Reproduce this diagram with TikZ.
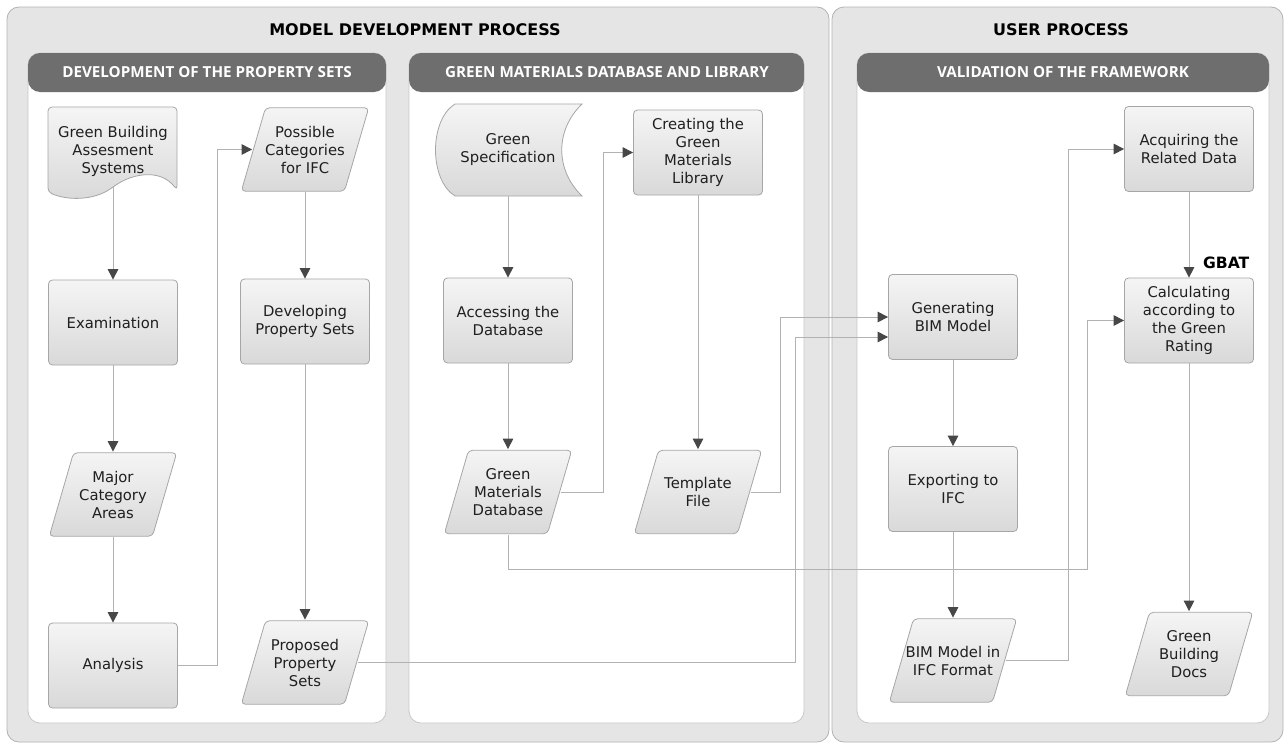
\documentclass[tikz,border=0pt]{standalone}
\usepackage{fontspec}
\setmainfont{DejaVu Sans}
\newfontfamily\headfont{Open Sans}
\usetikzlibrary{arrows.meta}

\tikzset{
panel/.style={draw=black!30,fill=black!10,rounded corners=6pt},
lane/.style={draw=black!22,fill=white,rounded corners=6pt},
lanehead/.style={fill=black!57,rounded corners=6pt},
paneltitle/.style={font={\bfseries\fontsize{8}{10}\selectfont}},
headtxt/.style={text=white,font={\headfont\bfseries\fontsize{7.6}{9}\selectfont}},
txt/.style={align=center,text=black!88,inner sep=1pt,
  minimum width=64.5pt,font={\fontsize{7.4}{9}\selectfont}},
shade/.style={draw=black!35,top color=black!4,bottom color=black!15,rounded corners=2pt},
box/.style={txt,shade,minimum height=42.5pt},
iobox/.style={txt,minimum height=42.5pt,
  path picture={\path[shade]
  ([shift={(0.4pt,0.4pt)}]path picture bounding box.south west)
  -- ([shift={(-12.5pt,0.4pt)}]path picture bounding box.south east)
  -- ([shift={(-0.4pt,-0.4pt)}]path picture bounding box.north east)
  -- ([shift={(12.5pt,-0.4pt)}]path picture bounding box.north west) -- cycle;}},
flow/.style={draw=black!30,line width=0.5pt,
  -{Triangle[width=5.2pt,length=5.2pt,color=black!72]}},
}

\begin{document}
\begin{tikzpicture}[x=0.5pt,y=-0.5pt]
\useasboundingbox (0,0) rectangle (1288,744);
% panels and lanes
\draw[panel] (7,7) rectangle (829,742);
\draw[panel] (832,7) rectangle (1283,742);
\node[paneltitle] (mdp) at (415,30) {MODEL DEVELOPMENT PROCESS};
\node[paneltitle] (up) at (1061,30) {USER PROCESS};
\draw[lane] (28,53) rectangle (386,723);
\draw[lane] (409,53) rectangle (804,723);
\draw[lane] (857,53) rectangle (1269,723);
\fill[lanehead] (28,53) rectangle (386,92);
\fill[lanehead] (409,53) rectangle (804,92);
\fill[lanehead] (857,53) rectangle (1269,92);
\node[headtxt] (h1) at (207,72) {DEVELOPMENT OF THE PROPERTY SETS};
\node[headtxt] (h2) at (607,72) {GREEN MATERIALS DATABASE AND LIBRARY};
\node[headtxt] (h3) at (1063,72) {VALIDATION OF THE FRAMEWORK};

% odd shapes
\path[shade] (48,107) -- (177,107) -- (177,190)
  .. controls (160,168) and (132,174) .. (113,187)
  .. controls (94,200) and (68,201) .. (48,192) -- cycle;
\path[shade,sharp corners] (455,104) -- (582,104) .. controls (555,130) and (555,170) .. (582,196)
  -- (455,196) .. controls (429,180) and (429,120) .. (455,104) -- cycle;

% development of the property sets
\node[txt,minimum height=36pt] (gbas) at (113,151) {Green Building\\Assesment\\Systems};
\node[box] (exam) at (113,322.5) {Examination};
\node[iobox] (major) at (113,494.5) {Major\\Category\\Areas};
\node[box] (analysis) at (113,665.5) {Analysis};
\node[iobox] (possible) at (305,149.5) {Possible\\Categories\\for IFC};
\node[box] (develop) at (305,321.5) {Developing\\Property Sets};
\node[iobox] (proposed) at (305,662.5) {Proposed\\Property\\Sets};

% green materials database and library
\node[txt,minimum height=46pt] (greenspec) at (508,150) {Green\\Specification};
\node[box] (access) at (508,320.5) {Accessing the\\Database};
\node[iobox] (gmdb) at (508,492) {Green\\Materials\\Database};
\node[box] (creating) at (698,152.5) {Creating the\\Green\\Materials\\Library};
\node[iobox] (template) at (698,492) {Template\\File};

% validation of the framework
\node[box] (genbim) at (953,317) {Generating\\BIM Model};
\node[box] (export) at (953,489) {Exporting to\\IFC};
\node[iobox] (bimifc) at (953,660.5) {BIM Model in\\IFC Format};
\node[box] (acquire) at (1189,149) {Acquiring the\\Related Data};
\node[box] (calc) at (1189,320.5) {Calculating\\according to\\the Green\\Rating};
\node[iobox] (docs) at (1189,654) {Green\\Building\\Docs};
\node[anchor=west,font={\bfseries\fontsize{7.8}{9}\selectfont}] (gbat) at (1196,263) {GBAT};

% connectors
\draw[flow] (gbas) -- (exam);
\draw[flow] (exam) -- (major);
\draw[flow] (major) -- (analysis);
\draw[flow] (analysis.east) -- ++(40,0) |- ([xshift=6pt]possible.west);
\draw[flow] (possible) -- (develop);
\draw[flow] (develop) -- (proposed);
\draw[flow] (greenspec) -- (access);
\draw[flow] (access) -- (gmdb);
\draw[flow] ([xshift=-6pt]gmdb.east) -- ++(42.5,0) |- (creating);
\draw[flow] (creating) -- (template);
\draw[flow] ([xshift=-6pt]template.east) -- ++(29.5,0) |- (genbim);
\draw[flow] ([xshift=-6pt]proposed.east) -- ++(437.5,0) |- ([yshift=-10pt]genbim.west);
\draw[flow] (gmdb.south) |- (1087,569) |- (calc);
\draw[flow] (genbim) -- (export);
\draw[flow] (export) -- (bimifc);
\draw[flow] ([xshift=-6pt]bimifc.east) -- ++(62.5,0) |- (acquire);
\draw[flow] (acquire) -- (calc);
\draw[flow] (calc) -- (docs);
\end{tikzpicture}
\end{document}
